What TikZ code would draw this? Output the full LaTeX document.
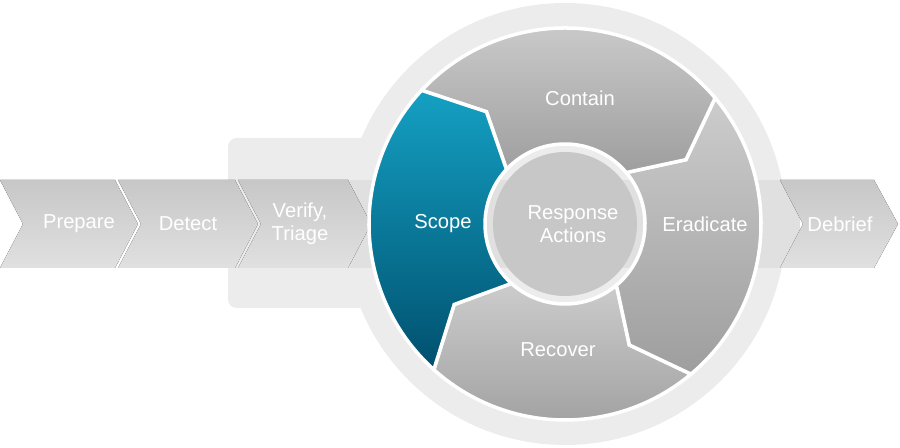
\documentclass[tikz,border=0pt]{standalone}
\usepackage{fontspec}
\setmainfont{Liberation Sans}
\usetikzlibrary{calc}
\definecolor{bggray}{RGB}{236,236,237}
\definecolor{tealtop}{RGB}{20,160,195}
\definecolor{tealbot}{RGB}{0,80,110}
\tikzset{
  chev/.style={top color=black!22,bottom color=black!12,draw=none},
  seg/.style={top color=black!20,bottom color=black!38,draw=white,line width=2pt},
  lbl/.style={text=white,font=\fontsize{11.5}{13}\selectfont,align=center}
}
\newcommand{\ringseg}[3]{\path[#3] ($(c)+(#1:196)$) arc[start angle=#1,end angle=#2,radius=196] -- ($(c)+({#2-12}:137)$) -- ($(c)+(#2:80)$) arc[start angle=#2,end angle=#1,radius=80] -- ($(c)+({#1-12}:137)$) -- cycle;}
\begin{document}
\begin{tikzpicture}[x=0.02cm,y=0.02cm]
        \useasboundingbox (0,0) rectangle (900,448);
        \coordinate (c) at (565,224);
        % background
        \fill[bggray,rounded corners=5pt] (228,140) rectangle (700,310);
        \fill[bggray] (c) circle (221);
        \fill[black!12] (350,180) rectangle (800,268);
        % chevrons
        \fill[chev] (0,268) -- (115,268) -- (138,224) -- (115,180) -- (0,180) -- (23,224) -- cycle;
        \fill[chev] (118,268) -- (235,268) -- (258,224) -- (235,180) -- (118,180) -- (141,224) -- cycle;
        \fill[chev] (238,268) -- (348,268) -- (371,224) -- (348,180) -- (238,180) -- (261,224) -- cycle;
        \fill[chev] (780,268) -- (874,268) -- (898,224) -- (874,180) -- (780,180) -- (803,224) -- cycle;
        % ring
        \ringseg{-50}{-132}{seg}
        \ringseg{40}{-50}{seg}
        \ringseg{137}{40}{seg}
        \ringseg{228}{137}{top color=tealtop,bottom color=tealbot,draw=white,line width=2pt}
        \fill[black!22] (c) circle (72);
        % labels
        \node[lbl] (prep) at (79,224) {Prepare};
        \node[lbl] (det) at (188,224) {Detect};
        \node[lbl] (ver) at (300,224) {Verify,\\Triage};
        \node[lbl] (deb) at (840,224) {Debrief};
        \node[lbl] (scope) at (443,224) {Scope};
        \node[lbl] (cont) at (580,350) {Contain};
        \node[lbl] (erad) at (705,224) {Eradicate};
        \node[lbl] (rec) at (558,98) {Recover};
        \node[lbl] (resp) at (573,224) {Response\\Actions};
\end{tikzpicture}
\end{document}
